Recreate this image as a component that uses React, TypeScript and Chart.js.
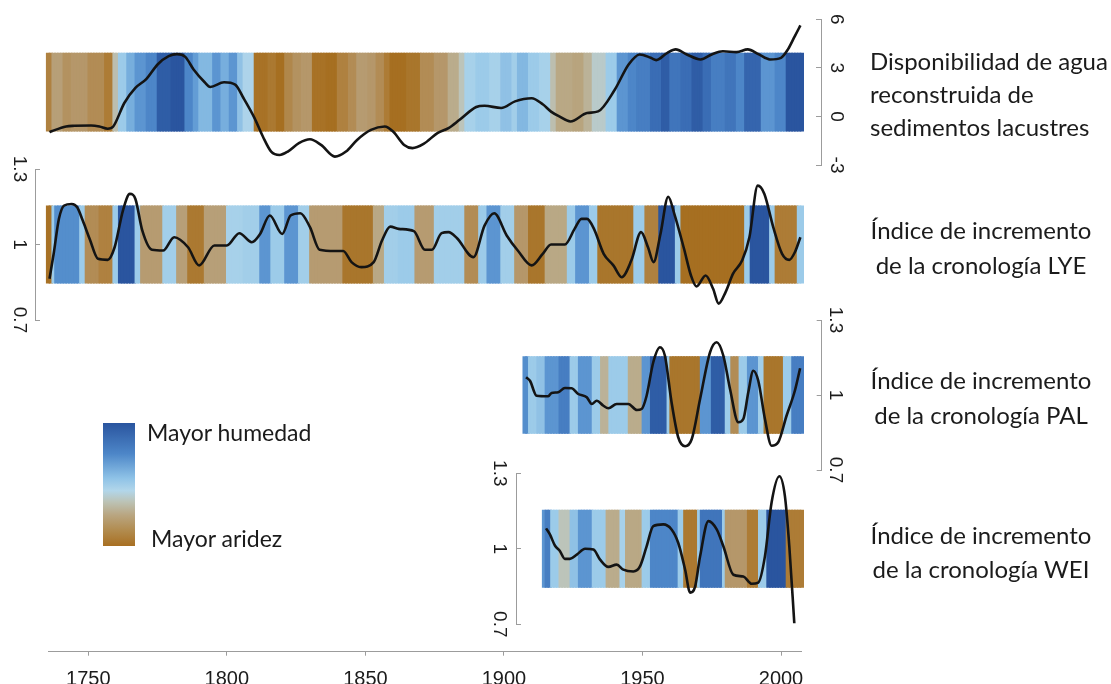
import React, { useEffect, useRef } from 'react';
import { Chart, registerables } from 'chart.js';

Chart.register(...registerables);

// ------------------------------------------------------------------
// Data
// ------------------------------------------------------------------
const YEAR_TICKS = [1750, 1800, 1850, 1900, 1950, 2000];
const WATER_TICKS = [-3, 0, 3, 6];
const RING_TICKS = [0.7, 1, 1.3];

// Water availability reconstructed from lake sediments (smoothed line)
const WATER_YEARS = [1736, 1737, 1742, 1745, 1751, 1754, 1757, 1759, 1763, 1767, 1771, 1775, 1779, 1782, 1785, 1788, 1792, 1794, 1799, 1803, 1806, 1810, 1813, 1816, 1819, 1822, 1826, 1830, 1834, 1839, 1843, 1847, 1852, 1857, 1860, 1864, 1867, 1871, 1876, 1880, 1884, 1890, 1893, 1899, 1904, 1910, 1914, 1917, 1920, 1924, 1930, 1934, 1940, 1945, 1949, 1953, 1955, 1959, 1962, 1966, 1971, 1975, 1979, 1984, 1988, 1992, 1996, 2000, 2002.5, 2005, 2007];
const WATER_VALUES = [-0.97, -0.9, -0.62, -0.58, -0.56, -0.62, -0.76, -0.62, 0.83, 1.76, 2.32, 3.21, 3.72, 3.85, 3.68, 2.9, 2.11, 1.82, 2.11, 1.97, 1.14, -0.1, -1.24, -2.17, -2.38, -2.17, -1.65, -1.41, -1.76, -2.48, -2.17, -1.45, -0.83, -0.62, -0.93, -1.76, -1.96, -1.7, -1.03, -0.72, -0.21, 0.58, 0.66, 0.52, 0.93, 1.12, 0.75, 0.3, 0.0, -0.31, 0.21, 0.31, 1.65, 3.21, 3.83, 3.62, 3.48, 3.93, 4.14, 3.83, 3.52, 3.83, 4.03, 3.97, 4.14, 3.83, 3.52, 3.62, 4.14, 4.96, 5.62];
// Colour stripes: start year of each band and its humidity index (-1 arid .. 1 humid)
const WATER_STRIPE_STARTS = [1735, 1737, 1741, 1744, 1750, 1756, 1759, 1761, 1764, 1767, 1771, 1775, 1780, 1785, 1788, 1790, 1795, 1798, 1801, 1804, 1806, 1810, 1815, 1818, 1821, 1824, 1827, 1831, 1836, 1840, 1844, 1847, 1851, 1854, 1857, 1859, 1865, 1870, 1875, 1880, 1884, 1886, 1890, 1895, 1899, 1903, 1905, 1909, 1913, 1917, 1919, 1925, 1929, 1932, 1937, 1941, 1945, 1948, 1953, 1957, 1960, 1964, 1968, 1972, 1975, 1980, 1984, 1987, 1993, 1998, 2002];
const WATER_STRIPE_INDEX = [-0.7, -0.4, -0.55, -0.5, -0.6, -0.75, -0.1, 0.3, 0.45, 0.6, 0.7, 0.95, 1.0, 0.7, 0.55, 0.4, 0.6, 0.45, 0.6, 0.35, 0.15, -0.9, -0.8, -0.95, -0.65, -0.55, -0.5, -0.9, -0.95, -0.7, -0.6, -0.45, -0.5, -0.6, -0.75, -0.95, -0.85, -0.6, -0.5, -0.25, -0.05, 0.2, 0.3, 0.2, 0.35, 0.25, 0.4, 0.3, 0.2, -0.1, -0.3, -0.35, -0.2, 0.0, 0.3, 0.6, 0.7, 0.75, 0.85, 0.95, 0.8, 0.85, 0.95, 0.85, 0.75, 0.8, 0.7, 0.9, 0.6, 0.7, 1.0];
const WATER_STRIPE_END = 2008;
const WATER_STRIPE_RANGE = [-0.93, 3.93];

// Ring-width index, chronology LYE
const LYE_YEARS = [1736, 1737.5, 1739.4, 1741.3, 1744, 1746, 1748, 1750.5, 1753.5, 1757, 1759.5, 1762.5, 1765, 1767, 1769.5, 1773, 1777, 1781, 1786, 1790, 1795.5, 1800, 1804.5, 1809, 1812, 1815.5, 1820, 1823, 1826.5, 1830, 1833.5, 1839, 1842, 1845, 1848.5, 1853, 1856, 1859, 1862, 1867.5, 1871.5, 1874, 1877.5, 1880, 1883, 1889, 1893, 1896.5, 1901, 1905, 1910, 1914, 1917, 1922, 1925.5, 1928, 1930, 1932.5, 1936, 1939.5, 1942.5, 1946, 1949.5, 1952, 1954, 1956.5, 1959.3, 1961.5, 1965, 1967.5, 1969.5, 1972.8, 1975.5, 1977.5, 1980, 1982.7, 1986, 1988.6, 1991.6, 1994, 1997.2, 2000.4, 2003, 2005, 2007];
const LYE_VALUES = [0.864, 0.963, 1.102, 1.155, 1.161, 1.148, 1.095, 1.022, 0.943, 0.939, 0.989, 1.135, 1.201, 1.181, 1.055, 0.979, 0.976, 1.029, 0.989, 0.917, 0.996, 0.996, 1.045, 1.009, 1.042, 1.115, 1.042, 1.115, 1.124, 1.069, 0.979, 0.974, 0.974, 0.93, 0.91, 0.93, 1.016, 1.071, 1.062, 1.053, 0.979, 0.979, 1.045, 1.049, 1.026, 0.95, 1.075, 1.124, 1.036, 0.976, 0.917, 0.963, 1.0, 1.0, 1.062, 1.102, 1.102, 1.062, 0.963, 0.917, 0.87, 0.937, 1.049, 0.989, 0.93, 1.042, 1.19, 1.122, 0.983, 0.877, 0.833, 0.877, 0.824, 0.765, 0.811, 0.884, 0.937, 1.029, 1.234, 1.201, 1.069, 0.963, 0.939, 0.969, 1.029];
const LYE_STRIPE_STARTS = [1735, 1737, 1738, 1747, 1749, 1754, 1759, 1761, 1767, 1769, 1777, 1782, 1786, 1792, 1800, 1806, 1812, 1816, 1821, 1826, 1830, 1842, 1853, 1857, 1862, 1868, 1875, 1886, 1891, 1894, 1899, 1904, 1909, 1915, 1923, 1926, 1931, 1934, 1947, 1951, 1956, 1962, 1964, 1987, 1989, 1996, 1998, 2006];
const LYE_STRIPE_INDEX = [-0.9, 0.3, 0.65, 0.3, -0.6, -0.7, 0.3, 1.0, 0.3, -0.45, 0.25, -0.4, -0.8, -0.4, 0.2, 0.25, 0.6, 0.3, 0.6, 0.25, -0.45, -0.85, -0.3, 0.25, 0.3, -0.45, 0.25, -0.6, 0.3, 0.6, 0.25, -0.5, -0.85, -0.3, 0.3, 0.6, 0.3, -0.85, 0.3, -0.7, 1.0, 0.3, -0.95, 0.3, 1.0, 0.3, -0.75, 0.3];
const LYE_STRIPE_END = 2008;

// Ring-width index, chronology PAL
const PAL_YEARS = [1908, 1909.4, 1911.8, 1916, 1917.2, 1919.6, 1922, 1924.5, 1926.8, 1929.9, 1931.7, 1933.5, 1935.9, 1937.7, 1940.7, 1944.9, 1948, 1949.7, 1951.5, 1953.9, 1956.3, 1958.1, 1960.5, 1962.9, 1965.4, 1967.8, 1970.8, 1974.4, 1976.8, 1979.2, 1981.6, 1984.6, 1986.4, 1988.2, 1990, 1991.8, 1994.2, 1996.6, 1999, 2002, 2005, 2006.9];
const PAL_VALUES = [1.071, 1.057, 0.997, 0.995, 1.008, 1.011, 1.028, 1.027, 1.004, 0.991, 0.964, 0.977, 0.957, 0.947, 0.964, 0.964, 0.94, 0.944, 0.997, 1.131, 1.191, 1.157, 0.971, 0.831, 0.795, 0.824, 0.984, 1.171, 1.211, 1.157, 1.024, 0.891, 0.904, 1.011, 1.097, 1.057, 0.904, 0.797, 0.811, 0.917, 1.017, 1.107];
const PAL_STRIPE_STARTS = [1907, 1909, 1912, 1915, 1920, 1924, 1927, 1932, 1935, 1938, 1945, 1950, 1953, 1959, 1960, 1971, 1975, 1980, 1982, 1985, 1988, 1992, 1994, 2001, 2004];
const PAL_STRIPE_INDEX = [0.65, 0.3, 0.35, 0.6, 0.75, 0.3, 0.6, 0.3, -0.2, 0.3, -0.25, 0.6, 0.95, 0.3, -0.85, 0.6, 0.95, 0.3, -0.6, 0.3, 0.6, 0.25, -0.85, 0.3, 0.75];
const PAL_STRIPE_END = 2008;

// Ring-width index, chronology WEI
const WEI_YEARS = [1915.2, 1916.6, 1918.4, 1920.2, 1922, 1923.8, 1926.3, 1929.3, 1932.3, 1934.7, 1937.7, 1940.7, 1943.1, 1946.7, 1949.1, 1951.5, 1953.9, 1957.5, 1960.5, 1962.9, 1965.4, 1967.2, 1969, 1970.8, 1973.8, 1976.8, 1979.2, 1982.8, 1986.4, 1989.4, 1991.8, 1994.2, 1996.6, 1999.4, 2001.4, 2003, 2004.8];
const WEI_VALUES = [1.081, 1.057, 1.013, 0.991, 0.96, 0.96, 0.977, 1.0, 0.997, 0.957, 0.928, 0.937, 0.917, 0.91, 0.93, 1.01, 1.09, 1.097, 1.077, 1.024, 0.917, 0.826, 0.85, 0.97, 1.11, 1.077, 1.01, 0.897, 0.89, 0.861, 0.866, 0.97, 1.184, 1.288, 1.21, 1.01, 0.704];
const WEI_STRIPE_STARTS = [1914, 1915, 1917, 1920, 1924, 1927, 1932, 1937, 1942, 1944, 1950, 1953, 1963, 1965, 1970, 1971, 1979, 1980, 1988, 1992, 1995, 2002];
const WEI_STRIPE_INDEX = [0.6, 0.75, 0.3, -0.05, 0.35, 0.6, 0.3, -0.25, 0.2, -0.3, 0.3, 0.7, 0.3, -0.8, 0.3, 0.8, 0.3, -0.5, -0.75, 0.3, 1.0, -0.75];
const WEI_STRIPE_END = 2008;

const RING_STRIPE_RANGE = [0.845, 1.155];

// ------------------------------------------------------------------
// Layout / style
// ------------------------------------------------------------------
const W = 1111;
const H = 684;
const PX_1750 = 88.3;
const PX_PER_YEAR = 2.7708;
const yearAtPx = (px: number) => 1750 + (px - PX_1750) / PX_PER_YEAR;

const AXIS_GREY = '#9c9c9c';
const TEXT = '#1b1b1b';
const TICK_FONT = '"Liberation Sans", Arial, sans-serif';
const LABEL_FONT = 'Lato, "Open Sans", sans-serif';

const STOPS: [number, number[]][] = [
  [-1.0, [164, 108, 28]],
  [-0.75, [173, 124, 54]],
  [-0.5, [181, 151, 106]],
  [-0.25, [186, 172, 140]],
  [-0.05, [188, 196, 186]],
  [0.1, [178, 214, 234]],
  [0.3, [156, 203, 233]],
  [0.5, [106, 164, 217]],
  [0.7, [77, 134, 200]],
  [0.85, [58, 109, 181]],
  [1.0, [42, 85, 159]],
];

function humidityColor(v: number): string {
  if (v <= STOPS[0][0]) return `rgb(${STOPS[0][1].join(',')})`;
  for (let i = 1; i < STOPS.length; i++) {
    const [v1, c1] = STOPS[i];
    const [v0, c0] = STOPS[i - 1];
    if (v <= v1) {
      const t = (v - v0) / (v1 - v0);
      const c = c0.map((a, k) => Math.round(a + (c1[k] - a) * t));
      return `rgb(${c.join(',')})`;
    }
  }
  return `rgb(${STOPS[STOPS.length - 1][1].join(',')})`;
}

function stripeBars(starts: number[], index: number[], end: number, range: number[]) {
  const data: { x: number; y: number[] }[] = [];
  const colors: string[] = [];
  for (let s = 0; s < starts.length; s++) {
    const a = starts[s];
    const b = s + 1 < starts.length ? starts[s + 1] : end;
    for (let yr = a; yr < b; yr++) {
      data.push({ x: yr + 0.5, y: [range[0], range[1]] });
      colors.push(humidityColor(index[s]));
    }
  }
  return { data, colors };
}

type Panel = {
  canvasTop: number;
  canvasHeight: number;
  area: { left: number; right: number; top: number; bottom: number };
  side: 'left' | 'right';
  min: number;
  max: number;
  ticks: number[];
  labelOffset: number;
  years: number[];
  values: number[];
  stripe: { data: { x: number; y: number[] }[]; colors: string[] };
};

const PANELS: Panel[] = [
  {
    canvasTop: 0, canvasHeight: 190,
    area: { left: 40, right: 821, top: 19.3, bottom: 165 },
    side: 'right', min: -3, max: 6, ticks: WATER_TICKS, labelOffset: 15,
    years: WATER_YEARS, values: WATER_VALUES,
    stripe: stripeBars(WATER_STRIPE_STARTS, WATER_STRIPE_INDEX, WATER_STRIPE_END, WATER_STRIPE_RANGE),
  },
  {
    canvasTop: 150, canvasHeight: 190,
    area: { left: 35, right: 815, top: 169, bottom: 320 },
    side: 'left', min: 0.7, max: 1.3, ticks: RING_TICKS, labelOffset: 16,
    years: LYE_YEARS, values: LYE_VALUES,
    stripe: stripeBars(LYE_STRIPE_STARTS, LYE_STRIPE_INDEX, LYE_STRIPE_END, RING_STRIPE_RANGE),
  },
  {
    canvasTop: 300, canvasHeight: 190,
    area: { left: 500, right: 821.7, top: 320, bottom: 470 },
    side: 'right', min: 0.7, max: 1.3, ticks: RING_TICKS, labelOffset: 14,
    years: PAL_YEARS, values: PAL_VALUES,
    stripe: stripeBars(PAL_STRIPE_STARTS, PAL_STRIPE_INDEX, PAL_STRIPE_END, RING_STRIPE_RANGE),
  },
  {
    canvasTop: 455, canvasHeight: 190,
    area: { left: 516, right: 815, top: 473.3, bottom: 624.3 },
    side: 'left', min: 0.7, max: 1.3, ticks: RING_TICKS, labelOffset: 17,
    years: WEI_YEARS, values: WEI_VALUES,
    stripe: stripeBars(WEI_STRIPE_STARTS, WEI_STRIPE_INDEX, WEI_STRIPE_END, RING_STRIPE_RANGE),
  },
];

const AXIS_CANVAS_TOP = 620;
const AXIS_CANVAS_H = 64;
const AXIS_LINE_Y = 651.7;
const AXIS_LEFT = 48;
const AXIS_RIGHT = 801.7;

// Rotated (clockwise) y tick labels, placed with the chart's own y scale
const rotatedTickLabels = {
  id: 'rotatedTickLabels',
  afterDraw(chart: any, _args: any, opts: any) {
    const scale = chart.scales.y;
    if (!scale) return;
    const ctx = chart.ctx;
    const right = scale.position === 'right';
    const axisX = right ? scale.left : scale.right;
    const x = axisX + (right ? opts.offset : -opts.offset);
    ctx.save();
    ctx.font = `${opts.size}px ${TICK_FONT}`;
    ctx.fillStyle = TEXT;
    ctx.textAlign = 'center';
    ctx.textBaseline = 'middle';
    for (const t of scale.ticks) {
      const y = scale.getPixelForValue(t.value);
      ctx.save();
      ctx.translate(x, y);
      ctx.rotate(Math.PI / 2);
      ctx.fillText(t.label != null && t.label !== '' ? String(t.label) : String(t.value), 0, 0);
      ctx.restore();
    }
    ctx.restore();
  },
};

function panelConfig(p: Panel): any {
  return {
    type: 'bar',
    data: {
      datasets: [
        {
          type: 'line',
          data: p.years.map((x, i) => ({ x, y: p.values[i] })),
          borderColor: '#141414',
          borderWidth: 2.6,
          pointRadius: 0,
          cubicInterpolationMode: 'monotone',
          fill: false,
          order: 0,
          clip: false,
        },
        {
          type: 'bar',
          data: p.stripe.data,
          backgroundColor: p.stripe.colors,
          borderWidth: 0,
          barPercentage: 1.6,
          categoryPercentage: 1,
          order: 1,
        },
      ],
    },
    options: {
      responsive: false,
      animation: false,
      events: [],
      layout: {
        padding: {
          left: p.area.left,
          right: W - p.area.right,
          top: p.area.top - p.canvasTop,
          bottom: p.canvasTop + p.canvasHeight - p.area.bottom,
        },
      },
      plugins: {
        legend: { display: false },
        tooltip: { enabled: false },
        rotatedTickLabels: { offset: p.labelOffset, size: 19 },
      },
      scales: {
        x: {
          type: 'linear',
          display: false,
          offset: false,
          min: yearAtPx(p.area.left),
          max: yearAtPx(p.area.right),
        },
        y: {
          type: 'linear',
          position: p.side,
          min: p.min,
          max: p.max,
          afterBuildTicks: (s: any) => {
            s.ticks = p.ticks.map((v) => ({ value: v }));
          },
          afterFit: (s: any) => {
            s.width = 0;
          },
          ticks: { display: false, callback: (v: number) => String(v) },
          grid: { drawOnChartArea: false, drawTicks: true, tickLength: -5, color: AXIS_GREY, lineWidth: 1 },
          border: { display: true, color: AXIS_GREY, width: 1 },
        },
      },
    },
    plugins: [rotatedTickLabels],
  };
}

function axisConfig(): any {
  const areaBottom = AXIS_LINE_Y - AXIS_CANVAS_TOP;
  return {
    type: 'line',
    data: { datasets: [] },
    options: {
      responsive: false,
      animation: false,
      events: [],
      layout: { padding: { left: AXIS_LEFT, right: W - AXIS_RIGHT, top: 6, bottom: 0 } },
      plugins: { legend: { display: false }, tooltip: { enabled: false } },
      scales: {
        x: {
          type: 'linear',
          position: 'bottom',
          min: yearAtPx(AXIS_LEFT),
          max: yearAtPx(AXIS_RIGHT),
          afterBuildTicks: (s: any) => {
            s.ticks = YEAR_TICKS.map((v) => ({ value: v }));
          },
          afterFit: (s: any) => {
            s.height = AXIS_CANVAS_H - areaBottom;
          },
          ticks: {
            callback: (v: number) => String(v),
            font: { family: TICK_FONT, size: 20 },
            color: TEXT,
            padding: 12,
            maxRotation: 0,
            autoSkip: false,
          },
          grid: { drawOnChartArea: false, drawTicks: true, tickLength: 4, color: AXIS_GREY },
          border: { display: true, color: AXIS_GREY, width: 1 },
        },
        y: { display: false, min: 0, max: 1 },
      },
    },
  };
}

const textStyle: React.CSSProperties = {
  position: 'absolute',
  fontFamily: LABEL_FONT,
  color: TEXT,
  whiteSpace: 'nowrap',
};

export default function App() {
  const canvases = useRef<(HTMLCanvasElement | null)[]>([]);
  const axisCanvas = useRef<HTMLCanvasElement | null>(null);

  useEffect(() => {
    const charts: Chart[] = [];
    PANELS.forEach((p, i) => {
      const c = canvases.current[i];
      if (c) charts.push(new Chart(c, panelConfig(p)));
    });
    if (axisCanvas.current) charts.push(new Chart(axisCanvas.current, axisConfig()));
    return () => charts.forEach((c) => c.destroy());
  }, []);

  return (
    <div style={{ position: 'absolute', left: 0, top: 0, width: W, height: H, background: '#fff', overflow: 'hidden' }}>
      {PANELS.map((p, i) => (
        <canvas
          key={i}
          ref={(el) => {
            canvases.current[i] = el;
          }}
          width={W}
          height={p.canvasHeight}
          style={{ position: 'absolute', left: 0, top: p.canvasTop, display: 'block' }}
        />
      ))}
      <canvas
        ref={axisCanvas}
        width={W}
        height={AXIS_CANVAS_H}
        style={{ position: 'absolute', left: 0, top: AXIS_CANVAS_TOP, display: 'block' }}
      />

      <div style={{ ...textStyle, left: 870, top: 43.5, fontSize: 24, lineHeight: '33px' }}>
        Disponibilidad de agua
        <br />
        reconstruida de
        <br />
        sedimentos lacustres
      </div>
      <div style={{ ...textStyle, left: 831, width: 300, top: 211.5, fontSize: 24, lineHeight: '35px', textAlign: 'center' }}>
        Índice de incremento
        <br />
        de la cronología LYE
      </div>
      <div style={{ ...textStyle, left: 831, width: 300, top: 362, fontSize: 24, lineHeight: '35px', textAlign: 'center' }}>
        Índice de incremento
        <br />
        de la cronología PAL
      </div>
      <div style={{ ...textStyle, left: 831, width: 300, top: 518, fontSize: 24, lineHeight: '34px', textAlign: 'center' }}>
        Índice de incremento
        <br />
        de la cronología WEI
      </div>

      <div
        style={{
          position: 'absolute',
          left: 103,
          top: 423,
          width: 32,
          height: 123,
          background:
            'linear-gradient(to bottom, #2a559f 0%, #4d86c8 25%, #8fc3e7 45%, #b2d6ea 55%, #bcc3b6 64%, #b9a580 75%, #b18a4c 88%, #a86f22 100%)',
        }}
      />
      <div style={{ ...textStyle, left: 147, top: 418, fontSize: 23, lineHeight: '28px' }}>Mayor humedad</div>
      <div style={{ ...textStyle, left: 151, top: 524, fontSize: 23, lineHeight: '28px' }}>Mayor aridez</div>
    </div>
  );
}
